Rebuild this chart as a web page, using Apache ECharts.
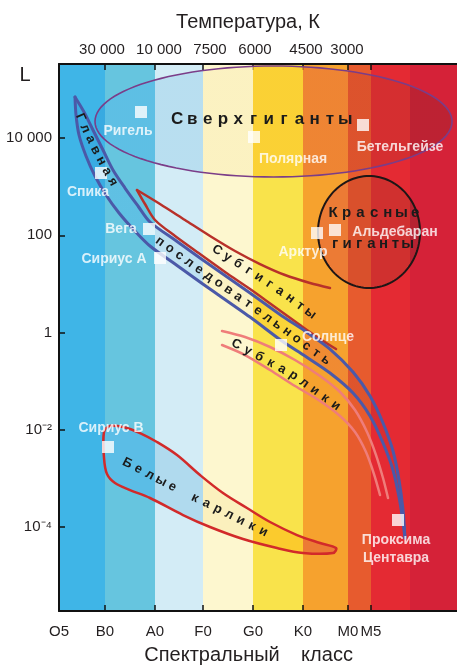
<!DOCTYPE html>
<html>
<head>
<meta charset="utf-8">
<script src="https://cdn.jsdelivr.net/npm/echarts@6/dist/echarts.min.js"></script>
<style>
html,body{margin:0;padding:0;background:#ffffff;}
#chart{width:457px;height:668px;}
</style>
</head>
<body>
<div id="chart"></div>
<script>
// ---- Hertzsprung–Russell diagram ----
// x: spectral class position (class units), y: log10 of luminosity (solar units)

const spectralClasses = ['O5', 'B0', 'A0', 'F0', 'G0', 'K0', 'M0', 'M5'];
const spectralPos = [0, 0.954, 1.992, 2.988, 4.025, 5.062, 5.996, 6.473];

// colour strips behind the chart (edges in class units)
const bandEdges = [0, 0.954, 1.992, 2.988, 4.025, 5.062, 5.996, 6.473, 7.282, 8.257];
const bandColors = ['#3fb5e7', '#66c5df', '#d3ecf6', '#fdf7cf', '#f9e34b', '#f6a22e', '#e75b2e', '#e42a33', '#d52238'];
const bandInnerColors = ['#36a6df', '#5bbde6', '#b0daee', '#fbf0bd', '#fbcb2d', '#ec7b35', '#d9502c', '#d0302f', '#b52231'];

const temperatures = ['30 000', '10 000', '7500', '6000', '4500', '3000'];
const temperaturePos = [0.892, 2.075, 3.133, 4.066, 5.124, 5.975];

const lumTicks = [4, 2, 0, -2, -4];
const lumLabels = ['10 000', '100', '1', '10⁻²', '10⁻⁴'];

// named stars
const starNames = ['Ригель', 'Полярная', 'Бетельгейзе', 'Спика', 'Вега', 'Сириус А', 'Арктур', 'Альдебаран', 'Солнце', 'Сириус В', 'Проксима\nЦентавра'];
const starClass = [1.701, 4.046, 6.307, 0.871, 1.867, 2.095, 5.353, 5.726, 4.606, 1.017, 7.033];
const starLogL = [4.537, 4.023, 4.270, 3.282, 2.130, 1.533, 2.047, 2.109, -0.257, -2.356, -3.858];

// main sequence band edges [class, logL]
const msUpper = [[0.332,4.846],[0.519,4.537],[0.705,4.167],[0.913,3.755],[1.120,3.344],[1.369,2.973],[1.639,2.603],[1.888,2.274],[2.407,1.903],[2.925,1.533],[3.963,0.813],[4.627,0.340],[5.104,0.031],[5.622,-0.340],[6.100,-0.813],[6.452,-1.307],[6.722,-1.862],[6.929,-2.438],[7.054,-3.035],[7.137,-3.652],[7.178,-4.228]];
const msLower = [[0.332,4.846],[0.353,4.475],[0.415,4.064],[0.560,3.632],[0.747,3.220],[0.975,2.829],[1.245,2.459],[1.556,2.109],[1.888,1.780],[2.407,1.409],[2.925,1.039],[3.963,0.319],[4.627,-0.175],[5.104,-0.484],[5.622,-0.833],[6.100,-1.245],[6.452,-1.718],[6.722,-2.274],[6.929,-2.829],[7.054,-3.385],[7.137,-3.899],[7.178,-4.228]];

// subgiant branch edges
const subgiantUpper = [[1.618,2.932],[2.095,2.644],[2.614,2.315],[3.133,1.986],[3.651,1.677],[4.170,1.409],[4.689,1.183],[5.207,1.019],[5.622,0.916]];
const subgiantLower = [[1.618,2.932],[1.784,2.644],[1.992,2.315],[2.407,1.986],[2.925,1.615],[3.444,1.245],[3.963,0.895],[4.481,0.525],[5.000,0.154],[5.415,-0.134],[5.747,-0.340]];

// subdwarf edges
const subdwarfUpper = [[3.382,0.031],[3.859,-0.093],[4.378,-0.298],[4.896,-0.566],[5.415,-0.895],[5.830,-1.224],[6.141,-1.595],[6.390,-2.047],[6.577,-2.521],[6.722,-2.994],[6.826,-3.405]];
const subdwarfLower = [[3.382,-0.257],[3.859,-0.463],[4.378,-0.772],[4.896,-1.101],[5.415,-1.409],[5.830,-1.718],[6.141,-2.047],[6.369,-2.459],[6.535,-2.912],[6.660,-3.344]];

// white dwarf region outline (closed)
const whiteDwarfOutline = [[0.934,-2.047],[1.058,-1.924],[1.328,-1.944],[1.680,-2.068],[2.033,-2.253],[2.448,-2.521],[2.925,-2.932],[3.402,-3.302],[3.900,-3.611],[4.378,-3.899],[4.938,-4.167],[5.415,-4.331],[5.747,-4.434],[5.685,-4.537],[5.062,-4.537],[4.523,-4.434],[3.817,-4.249],[3.133,-4.002],[2.573,-3.755],[1.888,-3.405],[1.473,-3.241],[1.162,-3.097],[0.996,-2.912],[0.934,-2.582]];

// elliptical regions: [classMin, classMax, logLMin, logLMax]
const supergiantZone = [0.747, 8.154, 3.200, 5.484];
const redGiantZone = [5.373, 7.490, 0.916, 3.220];

// axis ranges
const X_MIN = 0, X_MAX = 8.257, Y_MIN = -5.73, Y_MAX = 5.525;

// ---- layout / styling ----
const FONT = '"Liberation Sans", Arial, sans-serif';
const starLabelOffsets = [[-13,19],[39,22],[37,22],[-13,19],[-28,0],[-46,1],[-14,19],[60,2],[47,-8],[3,-19],[-2,29]];

// letter guides for captions written along the regions
const captionGuides = [
  { text: 'Главная', path: [[0.394,4.537],[0.560,4.167],[0.747,3.776],[0.954,3.385],[1.183,2.973],[1.390,2.685]], start: 6, step: 12, size: 13, weight: 'bold' },
  { text: 'последовательность', path: [[1.992,1.944],[2.925,1.286],[3.963,0.566],[4.627,0.093],[5.622,-0.628]], start: 6, step: 12, size: 13, weight: 'bold' },
  { text: 'Субгиганты', path: [[3.174,1.759],[3.755,1.389],[4.274,1.060],[4.793,0.710],[5.456,0.216]], start: 6, step: 12.5, size: 13, weight: 'bold' },
  { text: 'Субкарлики', path: [[3.589,-0.195],[4.170,-0.504],[4.855,-0.874],[5.353,-1.224],[5.934,-1.636]], start: 5, step: 13, size: 13, weight: 'bold' },
  { text: 'Белые карлики', path: [[1.286,-2.623],[2.407,-3.200],[3.548,-3.755],[4.378,-4.167]], start: 7, step: 12.7, size: 13, weight: 'bold' },
  { text: 'Сверхгиганты', path: [[2.324,4.393],[6.245,4.393]], start: 6, step: 15.3, size: 17, weight: 'bold' },
  { text: 'Красные', path: [[5.539,2.459],[7.593,2.459]], start: 7, step: 13.7, size: 15, weight: 'bold' },
  { text: 'гиганты', path: [[5.581,1.821],[7.490,1.821]], start: 7, step: 12.1, size: 15, weight: 'bold' }
];

const chart = echarts.init(document.getElementById('chart'), null, { renderer: 'canvas' });

// horizontal gradient that repeats the strip layout with the deeper "inside" tones
function innerFill(api) {
  const xL = api.coord([bandEdges[0], 0])[0];
  const xR = api.coord([bandEdges[bandEdges.length - 1], 0])[0];
  const stops = [];
  for (let i = 0; i < bandInnerColors.length; i++) {
    const a = (api.coord([bandEdges[i], 0])[0] - xL) / (xR - xL);
    const b = (api.coord([bandEdges[i + 1], 0])[0] - xL) / (xR - xL);
    stops.push({ offset: Math.max(0, a), color: bandInnerColors[i] });
    stops.push({ offset: Math.min(1, b), color: bandInnerColors[i] });
  }
  return new echarts.graphic.LinearGradient(xL, 0, xR, 0, stops, true);
}

function ellipsePoints(api, zone) {
  const p0 = api.coord([zone[0], zone[3]]);
  const p1 = api.coord([zone[1], zone[2]]);
  const cx = (p0[0] + p1[0]) / 2, cy = (p0[1] + p1[1]) / 2;
  const rx = Math.abs(p1[0] - p0[0]) / 2, ry = Math.abs(p1[1] - p0[1]) / 2;
  const pts = [];
  for (let k = 0; k < 120; k++) {
    const t = (k / 120) * Math.PI * 2;
    pts.push([cx + rx * Math.cos(t), cy + ry * Math.sin(t)]);
  }
  return pts;
}

function lineSeries(data, color, width) {
  return {
    type: 'line', data: data, showSymbol: false, smooth: 0.3, silent: true, z: 4,
    lineStyle: { color: color, width: width, cap: 'round', join: 'round' }
  };
}

const option = {
  animation: false,
  backgroundColor: '#ffffff',
  grid: { left: 59, right: 0, top: 64, bottom: 57 },
  xAxis: [
    {
      type: 'value', min: X_MIN, max: X_MAX, position: 'bottom',
      axisLine: { show: true, onZero: false, lineStyle: { color: '#111', width: 2 } },
      axisTick: { show: true, inside: true, length: 6, customValues: spectralPos.slice(1), lineStyle: { color: '#111', width: 1.5 } },
      axisLabel: {
        customValues: spectralPos, margin: 13, color: '#231f20', fontSize: 15, fontFamily: FONT,
        formatter: v => spectralClasses[spectralPos.indexOf(v)]
      },
      splitLine: { show: false }
    },
    {
      type: 'value', min: X_MIN, max: X_MAX, position: 'top',
      axisLine: { show: true, onZero: false, lineStyle: { color: '#111', width: 2 } },
      axisTick: { show: true, inside: true, length: 6, customValues: spectralPos.slice(1), lineStyle: { color: '#111', width: 1.5 } },
      axisLabel: {
        customValues: temperaturePos, margin: 7, color: '#231f20', fontSize: 15, fontFamily: FONT,
        formatter: v => temperatures[temperaturePos.indexOf(v)]
      },
      splitLine: { show: false }
    }
  ],
  yAxis: {
    type: 'value', min: Y_MIN, max: Y_MAX,
    axisLine: { show: true, onZero: false, lineStyle: { color: '#111', width: 2 } },
    axisTick: { show: true, inside: true, length: 6, customValues: lumTicks, lineStyle: { color: '#111', width: 1.5 } },
    axisLabel: {
      customValues: lumTicks, margin: 7, color: '#231f20', fontSize: 15, fontFamily: FONT,
      formatter: v => lumLabels[lumTicks.indexOf(v)]
    },
    splitLine: { show: false }
  },
  series: [
    // colour strips
    {
      type: 'custom', silent: true, z: 0, clip: true,
      data: bandColors.map((c, i) => [bandEdges[i], bandEdges[i + 1]]),
      renderItem: (params, api) => {
        const a = api.coord([api.value(0), Y_MAX]);
        const b = api.coord([api.value(1), Y_MIN]);
        return {
          type: 'rect',
          shape: { x: a[0], y: a[1], width: b[0] - a[0] + 0.6, height: b[1] - a[1] },
          style: { fill: bandColors[params.dataIndex] }
        };
      }
    },
    // supergiant region
    {
      type: 'custom', silent: true, z: 1, clip: true, data: [supergiantZone],
      renderItem: (params, api) => ({
        type: 'polygon', shape: { points: ellipsePoints(api, supergiantZone) },
        style: { fill: innerFill(api), opacity: 0.75 }
      })
    },
    // red giant region
    {
      type: 'custom', silent: true, z: 1, clip: true, data: [redGiantZone],
      renderItem: (params, api) => ({
        type: 'polygon', shape: { points: ellipsePoints(api, redGiantZone) },
        style: { fill: innerFill(api) }
      })
    },
    // main sequence interior
    {
      type: 'custom', silent: true, z: 1, clip: true, data: [0],
      renderItem: (params, api) => ({
        type: 'polygon', shape: { smooth: 0.3, points: msUpper.concat(msLower.slice().reverse()).map(p => api.coord(p)) },
        style: { fill: innerFill(api), opacity: 0.6 }
      })
    },
    // white dwarf region (filled and outlined)
    {
      type: 'custom', silent: true, z: 3, clip: true, data: [0],
      renderItem: (params, api) => ({
        type: 'polygon', shape: { smooth: 0.35, points: whiteDwarfOutline.map(p => api.coord(p)) },
        style: { fill: innerFill(api), stroke: '#d22a2a', lineWidth: 2.5 }
      })
    },
    // region outlines for ellipses
    {
      type: 'custom', silent: true, z: 3, clip: true, data: [supergiantZone],
      renderItem: (params, api) => ({
        type: 'polygon', shape: { points: ellipsePoints(api, supergiantZone) },
        style: { fill: 'none', stroke: '#7b3d88', lineWidth: 1.6 }
      })
    },
    {
      type: 'custom', silent: true, z: 3, clip: true, data: [redGiantZone],
      renderItem: (params, api) => ({
        type: 'polygon', shape: { points: ellipsePoints(api, redGiantZone) },
        style: { fill: 'none', stroke: '#1e1616', lineWidth: 2 }
      })
    },
    lineSeries(subgiantUpper, '#b8312a', 2.5),
    lineSeries(subgiantLower, '#b8312a', 2.5),
    lineSeries(subdwarfUpper, '#ef7d7a', 2.5),
    lineSeries(subdwarfLower, '#ef7d7a', 2.5),
    lineSeries(msUpper, '#4b59a8', 3),
    lineSeries(msLower, '#4b59a8', 3),
    // stars
    {
      type: 'scatter', z: 6, silent: true,
      symbol: 'rect', symbolSize: 12,
      itemStyle: { color: '#ffffff' },
      data: starNames.map((n, i) => ({
        name: n, value: [starClass[i], starLogL[i]],
        label: { offset: starLabelOffsets[i] }
      })),
      label: {
        show: true, position: 'inside', formatter: '{b}',
        color: '#ffffff', fontSize: 14, fontWeight: 'bold', fontFamily: FONT, lineHeight: 18, align: 'center'
      }
    }
  ]
};

chart.setOption(option);

// captions: letters placed one by one along their guide paths
function captionElements() {
  const els = [];
  captionGuides.forEach(g => {
    const pts = g.path.map(p => chart.convertToPixel({ xAxisIndex: 0, yAxisIndex: 0 }, p));
    const cum = [0];
    for (let i = 1; i < pts.length; i++) {
      cum.push(cum[i - 1] + Math.hypot(pts[i][0] - pts[i - 1][0], pts[i][1] - pts[i - 1][1]));
    }
    Array.from(g.text).forEach((ch, k) => {
      if (ch === ' ') return;
      const s = g.start + k * g.step;
      let j = 1;
      while (j < pts.length - 1 && cum[j] < s) j++;
      const segLen = cum[j] - cum[j - 1];
      const t = segLen > 0 ? (s - cum[j - 1]) / segLen : 0;
      const dx = pts[j][0] - pts[j - 1][0], dy = pts[j][1] - pts[j - 1][1];
      els.push({
        type: 'text', z: 20, silent: true,
        x: pts[j - 1][0] + dx * t, y: pts[j - 1][1] + dy * t,
        rotation: -Math.atan2(dy, dx),
        style: {
          text: ch, fill: '#1b1b1b', fontSize: g.size, fontWeight: g.weight, fontFamily: FONT,
          align: 'center', verticalAlign: 'middle'
        }
      });
    });
  });
  return els;
}

const titles = [
  { type: 'text', x: 248, y: 22, style: { text: 'Температура, К', fontSize: 20, fill: '#231f20', fontFamily: FONT, align: 'center', verticalAlign: 'middle' } },
  { type: 'text', x: 25, y: 75, style: { text: 'L', fontSize: 20, fill: '#231f20', fontFamily: FONT, align: 'center', verticalAlign: 'middle' } },
  { type: 'text', x: 212, y: 655, style: { text: 'Спектральный', fontSize: 20, fill: '#231f20', fontFamily: FONT, align: 'center', verticalAlign: 'middle' } },
  { type: 'text', x: 327, y: 655, style: { text: 'класс', fontSize: 20, fill: '#231f20', fontFamily: FONT, align: 'center', verticalAlign: 'middle' } }
];

chart.setOption({ graphic: { elements: titles.concat(captionElements()) } });
</script>
</body>
</html>
